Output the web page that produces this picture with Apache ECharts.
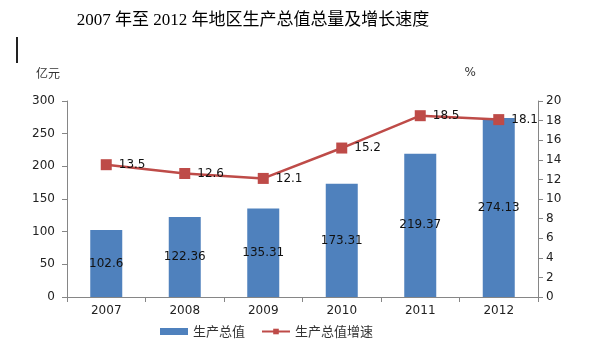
<!DOCTYPE html>
<html>
<head>
<meta charset="utf-8">
<script src="https://cdn.jsdelivr.net/npm/echarts@6/dist/echarts.min.js"></script>
<style>
  html, body { margin: 0; padding: 0; background: #fff; }
  #chart { width: 600px; height: 350px; }
</style>
</head>
<body>
<div id="chart"></div>
<script>
// GDP totals (亿元) and growth rate (%), 2007–2012
const years = ['2007', '2008', '2009', '2010', '2011', '2012'];
const gdpValues = [102.6, 122.36, 135.31, 173.31, 219.37, 274.13];
const growthRates = [13.5, 12.6, 12.1, 15.2, 18.5, 18.1];
const leftTicks = { min: 0, max: 300, interval: 50 };
const rightTicks = { min: 0, max: 20, interval: 2 };

const axisGrey = '#868686';
const labelFont = 'DejaVu Sans, Verdana, sans-serif';
const cjkFont = '"Noto Sans CJK SC", sans-serif';
const chart = echarts.init(document.getElementById('chart'), null, { renderer: 'canvas' });

chart.setOption({
  backgroundColor: '#fff',
  animation: false,
  title: {
    text: '2007 年至 2012 年地区生产总值总量及增长速度',
    left: 248,
    textAlign: 'center',
    top: 7,
    textStyle: {
      fontFamily: '"Liberation Serif", "Noto Sans CJK SC", serif',
      fontSize: 17,
      fontWeight: 'normal',
      color: '#000'
    }
  },
  graphic: [
    { type: 'rect', left: 16, top: 37, shape: { width: 2, height: 26 }, style: { fill: '#222' } }
  ],
  legend: {
    bottom: 7,
    left: 155,
    itemGap: 16,
    itemWidth: 28,
    itemHeight: 7,
    textStyle: { fontFamily: cjkFont, fontSize: 13, color: '#333' },
    data: [
      { name: '生产总值', icon: 'rect' },
      { name: '生产总值增速' }
    ]
  },
  grid: { left: 67, right: 62, top: 101, bottom: 53, containLabel: false },
  xAxis: {
    type: 'category',
    data: years,
    boundaryGap: true,
    axisLine: { lineStyle: { color: axisGrey } },
    axisTick: { show: true, alignWithLabel: false, length: 5, lineStyle: { color: axisGrey } },
    axisLabel: { color: '#222', fontFamily: labelFont, fontSize: 12, margin: 8 }
  },
  yAxis: [
    {
      type: 'value',
      name: '亿元',
      nameLocation: 'end',
      nameGap: 22,
      nameTextStyle: { fontFamily: cjkFont, fontSize: 12, color: '#333', align: 'right', padding: [0, 7, 0, 0] },
      min: leftTicks.min, max: leftTicks.max, interval: leftTicks.interval,
      axisLine: { show: true, lineStyle: { color: axisGrey } },
      axisTick: { show: true, length: 5, lineStyle: { color: axisGrey } },
      splitLine: { show: false },
      axisLabel: { color: '#222', fontFamily: labelFont, fontSize: 12, margin: 12 }
    },
    {
      type: 'value',
      name: '%',
      nameLocation: 'end',
      nameGap: 22,
      nameTextStyle: { fontFamily: labelFont, fontSize: 12, color: '#333', align: 'right', padding: [0, 62, 0, 0] },
      min: rightTicks.min, max: rightTicks.max, interval: rightTicks.interval,
      position: 'right',
      axisLine: { show: true, lineStyle: { color: axisGrey } },
      axisTick: { show: true, length: 5, lineStyle: { color: axisGrey } },
      splitLine: { show: false },
      axisLabel: { color: '#222', fontFamily: labelFont, fontSize: 12, margin: 8 }
    }
  ],
  series: [
    {
      name: '生产总值',
      type: 'bar',
      yAxisIndex: 0,
      barWidth: 32,
      data: gdpValues,
      itemStyle: { color: '#4F81BD' },
      label: {
        show: true,
        position: 'inside',
        color: '#111',
        fontFamily: labelFont,
        fontSize: 12
      }
    },
    {
      name: '生产总值增速',
      type: 'line',
      yAxisIndex: 1,
      data: growthRates,
      symbol: 'rect',
      symbolSize: 11,
      lineStyle: { color: '#BE4B48', width: 2.5 },
      itemStyle: { color: '#BE4B48' },
      label: {
        show: true,
        position: 'right',
        distance: 7,
        color: '#111',
        fontFamily: labelFont,
        fontSize: 12
      }
    }
  ]
});
</script>
</body>
</html>
